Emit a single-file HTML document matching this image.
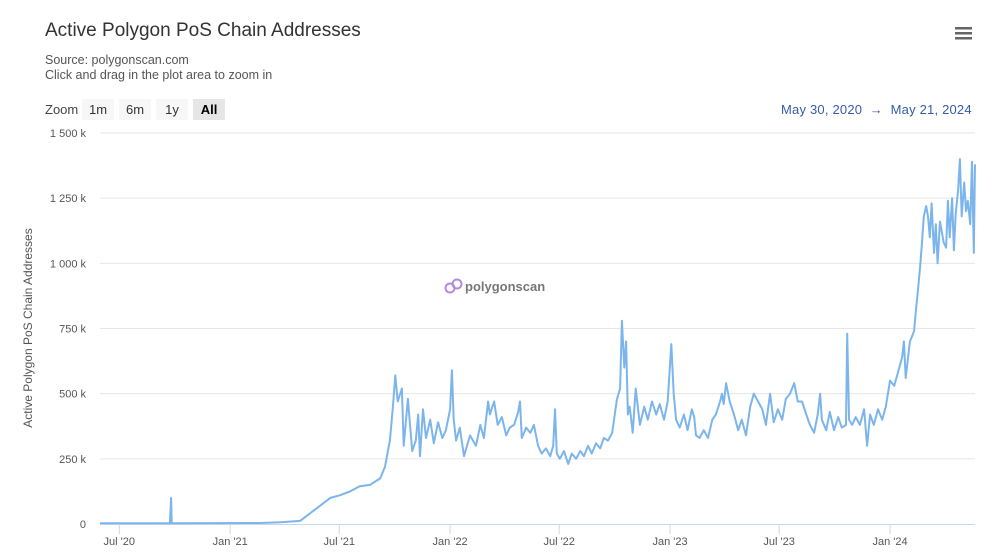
<!DOCTYPE html>
<html><head><meta charset="utf-8"><style>
body{margin:0;background:#fff;font-family:"Liberation Sans","DejaVu Sans",sans-serif;}
#c{position:relative;width:998px;height:557px;overflow:hidden;}
.t{position:absolute;white-space:nowrap;}
.btn{position:absolute;top:99px;height:21px;line-height:21px;background:#f7f7f7;font-size:13px;color:#333;text-align:center;}
</style></head><body>
<div id="c">
<div class="t" style="left:45px;top:20px;font-size:19px;color:#333">Active Polygon PoS Chain Addresses</div>
<div class="t" style="left:45px;top:53px;font-size:12.5px;color:#555;line-height:15px">Source: polygonscan.com<br>Click and drag in the plot area to zoom in</div>
<div class="t" style="left:45px;top:102px;font-size:13px;color:#444">Zoom</div>
<div class="btn" style="left:82px;width:32px">1m</div>
<div class="btn" style="left:119px;width:32px">6m</div>
<div class="btn" style="left:156px;width:32px">1y</div>
<div class="btn" style="left:193px;width:32px;background:#e6e6e6;font-weight:bold;color:#000">All</div>
<div class="t" style="left:781px;top:102px;font-size:13px;color:#335cad;letter-spacing:0.2px">May 30, 2020 &nbsp;→&nbsp; May 21, 2024</div>
<svg style="position:absolute;left:954px;top:25px" width="20" height="16"><rect x="1" y="2" width="17" height="2.5" fill="#666"/><rect x="1" y="7" width="17" height="2.5" fill="#666"/><rect x="1" y="12" width="17" height="2.5" fill="#666"/></svg>
<svg id="plot" style="position:absolute;left:0;top:0" width="998" height="557"></svg>
</div>
<script>
const days=[0,116,118,119,266,300,332,348,365,382,398,415,431,448,465,473,481,486,490,494,501,504,511,518,524,528,531,536,541,548,554,561,568,574,581,584,587,591,597,604,614,624,631,637,644,647,654,660,667,674,680,687,694,697,700,707,714,720,727,733,740,747,752,755,758,763,770,777,783,790,797,803,810,816,823,830,836,843,850,853,858,863,866,870,873,876,879,884,889,896,903,909,916,923,929,936,942,948,952,956,962,969,975,982,986,989,995,1002,1009,1016,1022,1029,1032,1035,1039,1045,1052,1059,1065,1072,1079,1085,1092,1099,1105,1112,1118,1125,1132,1138,1145,1152,1158,1165,1172,1178,1185,1191,1195,1198,1205,1211,1218,1225,1231,1238,1240,1243,1248,1254,1261,1268,1273,1278,1284,1291,1298,1304,1311,1318,1324,1331,1334,1337,1344,1351,1354,1357,1361,1364,1367,1371,1374,1377,1380,1384,1387,1390,1394,1400,1404,1407,1410,1414,1417,1420,1424,1427,1430,1434,1437,1440,1444,1447,1450,1452];
const values=[3,3,100,3,4,7,12,40,70,100,110,125,145,150,175,220,320,450,570,470,520,300,480,280,320,420,260,440,330,400,310,390,330,360,440,590,400,320,370,260,340,300,380,330,470,420,470,380,410,340,370,380,430,470,330,370,350,380,300,270,290,260,300,440,270,250,280,230,270,250,280,260,300,270,310,290,330,320,350,400,480,520,780,600,700,420,450,350,520,380,450,400,470,420,460,400,470,690,500,400,370,420,360,440,410,340,330,360,330,400,420,470,500,460,540,470,420,360,400,340,450,500,470,440,380,500,390,440,400,480,500,540,470,470,420,380,350,420,500,400,360,430,360,410,370,380,730,400,380,410,380,440,300,420,380,440,400,450,550,530,580,640,700,560,700,740,820,890,990,1080,1180,1220,1180,1100,1230,1040,1150,1000,1160,1080,1060,1240,1100,1250,1050,1190,1280,1400,1180,1310,1200,1240,1150,1390,1040,1380];
const yTicks=[0,250,500,750,1000,1250,1500];
const yTickLabels=["0","250 k","500 k","750 k","1 000 k","1 250 k","1 500 k"];
const xTickDays=[32,216,397,581,762,946,1127,1311];
const xTickLabels=["Jul '20","Jan '21","Jul '21","Jan '22","Jul '22","Jan '23","Jul '23","Jan '24"];
const X=d=>100+d*875/1452, Y=v=>524-v*391/1500;
const svg=document.getElementById('plot'),NS="http://www.w3.org/2000/svg";
function mk(tag,a,txt){const e=document.createElementNS(NS,tag);for(const k in a)e.setAttribute(k,a[k]);if(txt!=null)e.textContent=txt;svg.appendChild(e);return e;}
yTicks.forEach((v,i)=>{
 if(i>0){const g=mk('line',{x1:100,x2:975,y1:Y(v),y2:Y(v),stroke:'#e6e6e6','stroke-width':1});
 
 }
 const t=mk('text',{x:86,y:Y(v)+4,'text-anchor':'end','font-size':11,fill:'#555'},yTickLabels[i]);
 
 
});
const ax=mk('line',{x1:100,x2:975,y1:524.5,y2:524.5,stroke:'#ccd6eb'});


xTickDays.forEach((d,i)=>{
 const tk=mk('line',{x1:X(d),x2:X(d),y1:524,y2:534,stroke:'#ccd6eb'});
 
 
 const t=mk('text',{x:X(d),y:545,'text-anchor':'middle','font-size':11,fill:'#555'},xTickLabels[i]);
 
 
});
const yt=mk('text',{x:0,y:0,transform:'translate(32,328) rotate(-90)','text-anchor':'middle','font-size':12,fill:'#555'},'Active Polygon PoS Chain Addresses');


const wm=mk('g',{});


wm.innerHTML='<circle cx="450" cy="288" r="4.5" fill="none" stroke="#b48be0" stroke-width="2"/><circle cx="457" cy="284" r="4.5" fill="none" stroke="#b48be0" stroke-width="2"/><text x="465" y="291" font-size="13" font-weight="bold" fill="#777">polygonscan</text>';
const p=mk('path',{d:days.map((d,i)=>(i?'L':'M')+X(d).toFixed(1)+','+Y(values[i]).toFixed(1)).join(''),fill:'none',stroke:'#7cb5ec','stroke-width':2,'stroke-linejoin':'round'});


</script>
</body></html>
